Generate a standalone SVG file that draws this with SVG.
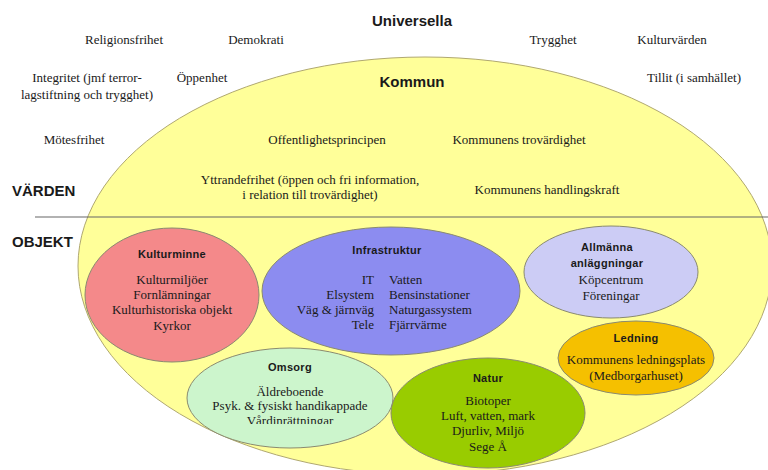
<svg xmlns="http://www.w3.org/2000/svg" width="768" height="470" viewBox="0 0 768 470">
<style>
.s{font-family:"Liberation Serif","Times New Roman",serif;font-size:13px;fill:#1a1a1a;text-anchor:middle}
.h{font-family:"Liberation Sans",Arial,sans-serif;font-weight:bold;font-size:15px;fill:#1a1a1a}
.t{font-family:"Liberation Sans",Arial,sans-serif;font-weight:bold;font-size:11px;letter-spacing:0.3px;fill:#1a1a1a;text-anchor:middle}
.e{stroke:#8a8a70;stroke-width:1}
</style>
<defs>
<clipPath id="omsClip"><rect x="180" y="340" width="230" height="84"/></clipPath>
</defs>
<rect width="768" height="470" fill="#ffffff"/>
<g id="kommun">
<ellipse cx="425" cy="266" rx="347" ry="209" fill="#ffff99" stroke="#b0a870" stroke-width="1"/>
</g>
<g id="divider">
<line x1="35" y1="217" x2="768" y2="217" stroke="#666" stroke-width="1.2"/>
</g>
<g id="labels">
<text class="h" x="412" y="26" text-anchor="middle">Universella</text>
<text class="h" x="412" y="87" text-anchor="middle">Kommun</text>
<text class="h" x="12" y="196">VÄRDEN</text>
<text class="h" x="12" y="247">OBJEKT</text>
<text class="s" x="124" y="44">Religionsfrihet</text>
<text class="s" x="256" y="44">Demokrati</text>
<text class="s" x="553" y="44">Trygghet</text>
<text class="s" x="672" y="44">Kulturvärden</text>
<text class="s" x="87" y="82">Integritet (jmf terror-</text>
<text class="s" x="87" y="99">lagstiftning och trygghet)</text>
<text class="s" x="202" y="82">Öppenhet</text>
<text class="s" x="694" y="82">Tillit (i samhället)</text>
<text class="s" x="74" y="144">Mötesfrihet</text>
<text class="s" x="327" y="144">Offentlighetsprincipen</text>
<text class="s" x="519" y="144">Kommunens trovärdighet</text>
<text class="s" x="310" y="184">Yttrandefrihet (öppen och fri information,</text>
<text class="s" x="310" y="199">i relation till trovärdighet)</text>
<text class="s" x="547" y="194">Kommunens handlingskraft</text>
</g>
<g id="kulturminne">
<ellipse class="e" cx="172" cy="295" rx="87" ry="67" fill="#f4898a"/>
<text class="t" x="172" y="258">Kulturminne</text>
<text class="s" x="172" y="284">Kulturmiljöer</text>
<text class="s" x="172" y="299">Fornlämningar</text>
<text class="s" x="172" y="314">Kulturhistoriska objekt</text>
<text class="s" x="172" y="330">Kyrkor</text>
</g>
<g id="infrastruktur">
<ellipse class="e" cx="391" cy="291" rx="129" ry="64" fill="#8c8cf0"/>
<text class="t" x="387" y="254">Infrastruktur</text>
<text class="s" x="374" y="284" style="text-anchor:end">IT</text>
<text class="s" x="374" y="299" style="text-anchor:end">Elsystem</text>
<text class="s" x="374" y="314" style="text-anchor:end">Väg &amp; järnväg</text>
<text class="s" x="374" y="329" style="text-anchor:end">Tele</text>
<text class="s" x="389" y="284" style="text-anchor:start">Vatten</text>
<text class="s" x="389" y="299" style="text-anchor:start">Bensinstationer</text>
<text class="s" x="389" y="314" style="text-anchor:start">Naturgassystem</text>
<text class="s" x="389" y="329" style="text-anchor:start">Fjärrvärme</text>
</g>
<g id="allmanna">
<ellipse class="e" cx="611" cy="272" rx="87" ry="46" fill="#ccccf5"/>
<text class="t" x="607" y="251">Allmänna</text>
<text class="t" x="607" y="267">anläggningar</text>
<text class="s" x="611" y="284">Köpcentrum</text>
<text class="s" x="611" y="300">Föreningar</text>
</g>
<g id="ledning">
<ellipse class="e" cx="636" cy="358" rx="78" ry="37" fill="#f5c000"/>
<text class="t" x="636" y="342">Ledning</text>
<text class="s" x="636" y="364">Kommunens ledningsplats</text>
<text class="s" x="636" y="380">(Medborgarhuset)</text>
</g>
<g id="omsorg">
<ellipse class="e" cx="290" cy="398" rx="103" ry="50" fill="#ccf5cc"/>
<text class="t" x="290" y="371">Omsorg</text>
<text class="s" x="290" y="396">Äldreboende</text>
<text class="s" x="290" y="410">Psyk. &amp; fysiskt handikappade</text>
<text class="s" x="290" y="425" clip-path="url(#omsClip)">Vårdinrättningar</text>
</g>
<g id="natur">
<ellipse class="e" cx="488" cy="413" rx="97" ry="55" fill="#99cc00"/>
<text class="t" x="488" y="382">Natur</text>
<text class="s" x="488" y="405">Biotoper</text>
<text class="s" x="488" y="420">Luft, vatten, mark</text>
<text class="s" x="488" y="435">Djurliv, Miljö</text>
<text class="s" x="488" y="451">Sege Å</text>
</g>
<g id="connectors"></g>
</svg>
